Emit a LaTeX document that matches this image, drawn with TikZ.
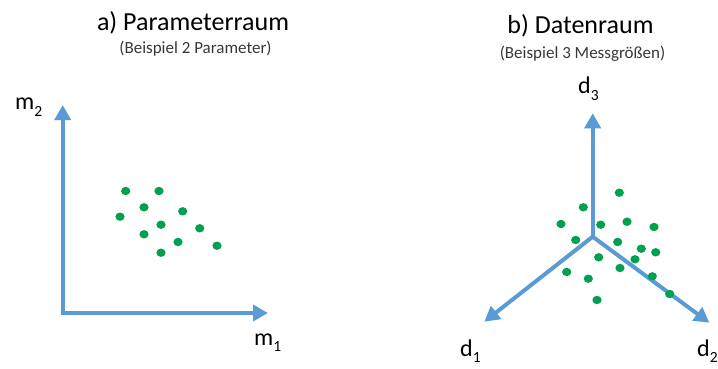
\documentclass[tikz,border=0pt]{standalone}
\usepackage{fontspec}
\setmainfont{Carlito}
\usetikzlibrary{arrows.meta}
\definecolor{axblue}{HTML}{5B9BD5}
\definecolor{dotgreen}{HTML}{00A050}
\definecolor{subgray}{HTML}{383838}
\newcommand\lowsub[1]{\raisebox{-0.28em}{\fontsize{15.5}{15.5}\selectfont #1}}
\begin{document}
\begin{tikzpicture}[x=1pt,y=-1pt,
  axis/.style={draw=axblue,line width=4pt,line join=miter,
    -{Triangle[width=16pt,length=15pt]}},
  title/.style={anchor=base,inner sep=0pt,font=\fontsize{26}{26}\selectfont},
  subtitle/.style={anchor=base,inner sep=0pt,text=subgray,font=\fontsize{17}{17}\selectfont},
  axlabel/.style={anchor=base west,inner sep=0pt,font=\fontsize{24}{24}\selectfont},
  dot/.style={fill=dotgreen}]
\useasboundingbox (0,0) rectangle (718,369);
\fill[white] (0,0) rectangle (718,369);

% titles
\node[title] (ta) at (193,30.7) {a) Parameterraum};
\node[subtitle] (sa) at (195.5,53.3) {(Beispiel 2 Parameter)};
\node[title] (tb) at (580.5,33.3) {b) Datenraum};
\node[subtitle] (sb) at (582.5,58.3) {(Beispiel 3 Messgrößen)};

% left axes
\coordinate (o1) at (62.7,313);
\coordinate (ytip) at (62.7,105);
\coordinate (xtip) at (268,313);
\draw[axis,{Triangle[width=16pt,length=15pt]}-{Triangle[width=16pt,length=15pt]}] (ytip) -- (o1) -- (xtip);
\node[axlabel] (m2) at (15,110) {m\lowsub{2}};
\node[axlabel] (m1) at (254,345) {m\lowsub{1}};

\foreach \x/\y in {125.7/191,159/191,144/207.3,182.7/211.3,120/216.7,161/224.7,
  199.7/228.3,144/234.3,178/242,217/245.7,161/252.7}
  \fill[dot] (\x,\y) ellipse (4.6 and 4.2);

% right axes
\coordinate (o2) at (592.7,236.7);
\coordinate (d3tip) at (592.7,113.3);
\coordinate (d1tip) at (484.3,321.7);
\coordinate (d2tip) at (709.3,322.7);
\draw[axis] (o2) -- (d3tip);
\draw[axis] (o2) -- (d1tip);
\draw[axis] (o2) -- (d2tip);
\node[axlabel] (d3) at (578,94) {d\lowsub{3}};
\node[axlabel] (d1) at (460,356) {d\lowsub{1}};
\node[axlabel] (d2) at (697,356) {d\lowsub{2}};

\foreach \x/\y in {619.3/192.7,583.3/207.3,561/224,600.7/224.7,627/221.7,654/227,
  575.7/240,617.7/242,641.3/248.7,655.7/252.3,598.7/257.3,635/259.3,620/268,
  566.7/272,652.3/276.3,588.3/278.7,669.7/294,597/300}
  \fill[dot] (\x,\y) ellipse (4.6 and 4.2);
\end{tikzpicture}
\end{document}
